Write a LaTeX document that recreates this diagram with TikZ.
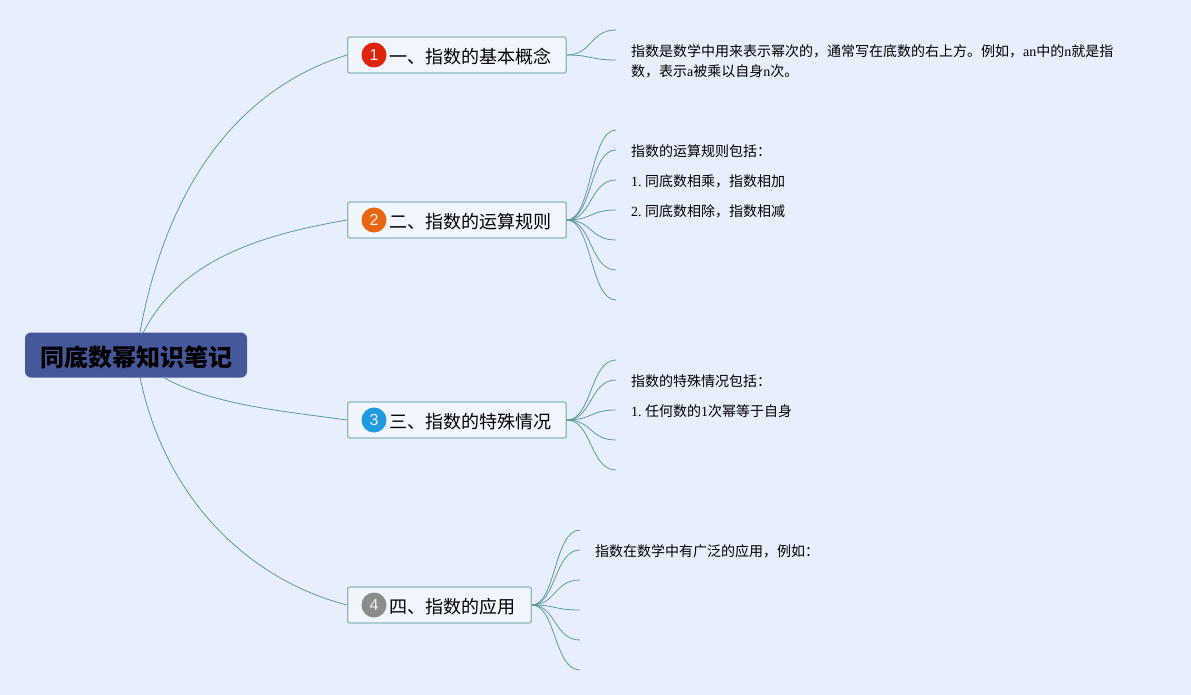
\documentclass[tikz,border=0pt]{standalone}
\usepackage{fontspec}
\setmainfont{Liberation Serif}
\newfontfamily\cjk{Noto Sans CJK SC}
\newfontfamily\digits{Liberation Sans}
\definecolor{paper}{HTML}{E7EFFD}
\definecolor{wire}{HTML}{5F9A97}
\definecolor{rootfill}{HTML}{45589C}
\definecolor{edge}{HTML}{8FB8BC}
\begin{document}
\begin{tikzpicture}[
    x=1pt,
    y=-1pt,
    wire/.style = {
      draw = wire,
      line width = 0.8pt
    },
    rootbox/.style = {
      fill = rootfill,
      rounded corners = 6pt,
      minimum width = 222pt,
      minimum height = 45pt,
      text height = 23pt,
      text depth = 0pt,
      font=\cjk\bfseries\fontsize{24}{24}\selectfont
    },
    topic/.style = {
      draw = edge,
      line width = 1.3pt,
      fill = paper!60!white,
      rounded corners = 2pt,
      minimum height = 36pt,
      anchor = west,
      inner sep = 0pt
    },
    badge/.style = {
      circle,
      inner sep = 0pt,
      minimum size = 25pt,
      text = white!90!gray,
      font=\digits\fontsize{16}{16}\selectfont
    },
    caption/.style = {
      anchor = west,
      inner sep = 0pt,
      font=\cjk\fontsize{18}{18}\selectfont
    },
    note/.style = {
      anchor = west,
      inner sep = 0pt,
      font=\fontsize{14}{14}\selectfont
    }
  ]
  \useasboundingbox[fill=paper] (0,0) rectangle (1191,695);
  % main boxes
  \node[rootbox] (root) at (136,355) {同底数幂知识笔记};
  \node[topic, minimum width = 218.5pt] (basic) at (347,55) {};
  \node[topic, minimum width = 218.5pt] (rules) at (347,220) {};
  \node[topic, minimum width = 218.5pt] (special) at (347,420) {};
  \node[topic, minimum width = 183.5pt] (usage) at (347,605) {};
  % badges and captions
  \node[badge, fill = {rgb,255:red,224;green,36;blue,11}] (one) at (374,55) {1};
  \node[badge, fill = {rgb,255:red,232;green,102;blue,15}] (two) at (374,220) {2};
  \node[badge, fill = {rgb,255:red,29;green,154;blue,224}] (three) at (374,420) {3};
  \node[badge, fill = {rgb,255:red,140;green,140;blue,140}] (four) at (374,605) {4};
  \node[caption] (capa) at (389,56.8) {一、指数的基本概念};
  \node[caption] (capb) at (389,221.8) {二、指数的运算规则};
  \node[caption] (capc) at (389,421.8) {三、指数的特殊情况};
  \node[caption] (capd) at (389,606.8) {四、指数的应用};
  % root wires
  \draw[wire] (140,332) .. controls (170,170) and (250,85) .. (basic.west);
  \draw[wire] (143,333) .. controls (180,260) and (260,235) .. (rules.west);
  \draw[wire] (163,377) .. controls (210,405) and (290,412) .. (special.west);
  \draw[wire] (140,377) .. controls (165,500) and (250,580) .. (usage.west);
  % leaf wires
  \foreach \y in {30,60}
    \draw[wire] (basic.east) .. controls (592,55) and (590,\y) .. (616,\y) coordinate (leafa\y);
  \foreach \y in {130,150,180,210,240,270,300}
    \draw[wire] (rules.east) .. controls (592,220) and (590,\y) .. (616,\y) coordinate (leafb\y);
  \foreach \y in {360,380,410,440,470}
    \draw[wire] (special.east) .. controls (592,420) and (590,\y) .. (616,\y) coordinate (leafc\y);
  \foreach \y in {530,550,580,610,640,670}
    \draw[wire] (usage.east) .. controls (556,605) and (554,\y) .. (580,\y) coordinate (leafd\y);
  % notes
  \node[note] (n1) at (631,51.5) {{\cjk 指数是数学中用来表示幂次的，通常写在底数的右上方。例如，}an{\cjk 中的}n{\cjk 就是指}};
  \node[note] (n2) at (631,71.5) {{\cjk 数，表示}a{\cjk 被乘以自身}n{\cjk 次。}};
  \node[note] (n3) at (631,151.5) {{\cjk 指数的运算规则包括：}};
  \node[note] (n4) at (631,181.5) {1.\kern3.5pt{\cjk 同底数相乘，指数相加}};
  \node[note] (n5) at (631,211.5) {2.\kern3.5pt{\cjk 同底数相除，指数相减}};
  \node[note] (n6) at (631,381.5) {{\cjk 指数的特殊情况包括：}};
  \node[note] (n7) at (631,411.5) {1.\kern3.5pt{\cjk 任何数的}1{\cjk 次幂等于自身}};
  \node[note] (n8) at (595,551.5) {{\cjk 指数在数学中有广泛的应用，例如：}};
\end{tikzpicture}
\end{document}
